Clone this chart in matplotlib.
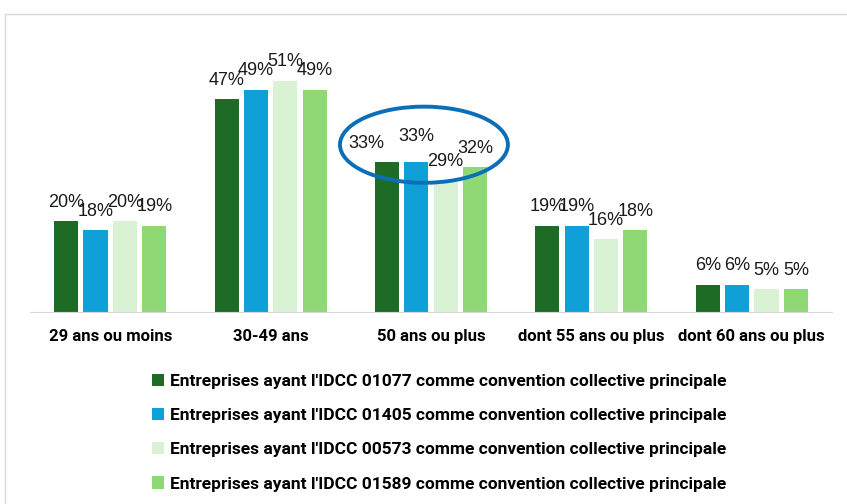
import matplotlib.pyplot as plt
from matplotlib.patches import Ellipse, Rectangle
import numpy as np

categories = ["29 ans ou moins", "30-49 ans", "50 ans ou plus",
              "dont 55 ans ou plus", "dont 60 ans ou plus"]
series_names = [
    "Entreprises ayant l'IDCC 01077 comme convention collective principale",
    "Entreprises ayant l'IDCC 01405 comme convention collective principale",
    "Entreprises ayant l'IDCC 00573 comme convention collective principale",
    "Entreprises ayant l'IDCC 01589 comme convention collective principale",
]
idcc_01077 = [20, 47, 33, 19, 6]
idcc_01405 = [18, 49, 33, 19, 6]
idcc_00573 = [20, 51, 29, 16, 5]
idcc_01589 = [19, 49, 32, 18, 5]
colors = ["#1e6b26", "#10a0d8", "#d8f2d3", "#8fd974"]

narrow = ["Roboto", "DejaVu Sans"]
regular = ["Liberation Sans", "DejaVu Sans"]

fig = plt.figure(figsize=(8.47, 5.04), dpi=100)
# cadre gris autour du graphique
fig.patches.append(Rectangle((5 / 847, -0.02), 1.02, 1 - 14 / 504 + 0.02,
                             transform=fig.transFigure, fill=False,
                             edgecolor="#d9d9d9", linewidth=1))

ax = fig.add_axes([30 / 847, 1 - 312 / 504, 802 / 847, 272 / 504])
x = np.arange(len(categories))
step = 0.183
width = 0.15
all_series = [idcc_01077, idcc_01405, idcc_00573, idcc_01589]
for i, (vals, col, name) in enumerate(zip(all_series, colors, series_names)):
    pos = x + (i - 1.5) * step
    ax.bar(pos, vals, width=width, color=col, label=name)
    for j, (px, v) in enumerate(zip(pos, vals)):
        # l'étiquette du premier 33% est décalée pour rester lisible
        dx = -0.13 if (i == 0 and j == 2) else 0
        dy = 1.5 if (i == 1 and j == 2) else 0
        ax.text(px + dx, v + 2.3 + dy, f"{v}%", ha="center", va="bottom",
                fontsize=13, family=regular, color="#1a1a1a")

ax.set_xlim(-0.5, 4.5)
ax.set_ylim(0, 60)
ax.set_yticks([])
ax.set_xticks(x)
ax.set_xticklabels(categories, fontsize=12, fontweight="bold", family=narrow)
ax.tick_params(axis="x", length=0, pad=12)
for s in ["top", "right", "left"]:
    ax.spines[s].set_visible(False)
ax.spines["bottom"].set_color("#d9d9d9")

# ellipse qui met en avant le groupe "50 ans ou plus"
ax.add_patch(Ellipse((1.956, 36.9), 1.047, 16.8, fill=False,
                     edgecolor="#0b6fb8", linewidth=2.8, clip_on=False))

handles, labels = ax.get_legend_handles_labels()
fig.legend(handles, labels, loc="upper left",
           bbox_to_anchor=(136 / 847, 1 - 358 / 504), frameon=False,
           prop={"family": narrow, "weight": "bold", "size": 12.5},
           handlelength=0.7, handleheight=0.7, handletextpad=0.35,
           labelspacing=1.1)

fig.savefig("out.png", dpi=100)
